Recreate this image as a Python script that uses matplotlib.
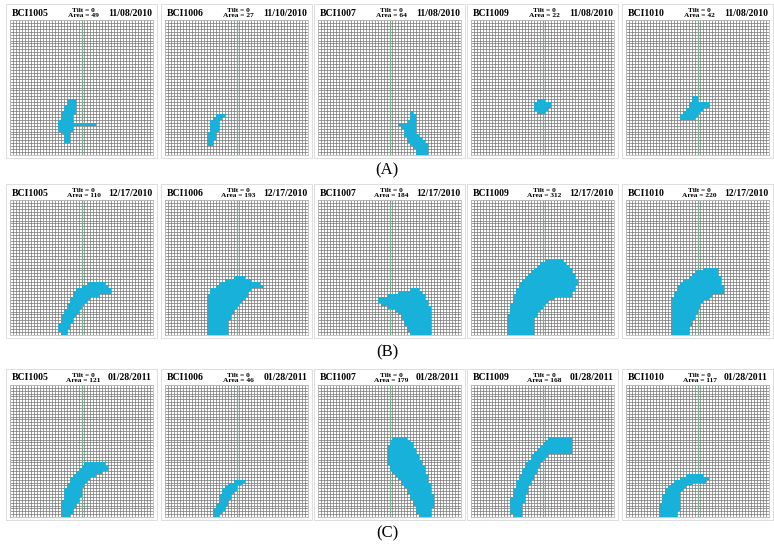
import numpy as np
import matplotlib
matplotlib.use("Agg")
import matplotlib.pyplot as plt
from matplotlib.colors import ListedColormap
from matplotlib.patches import Rectangle

plt.rcParams['font.family'] = ['Liberation Serif', 'DejaVu Serif']

N_COLS = 48
N_ROWS = 46

plants = ["BCI1005", "BCI1006", "BCI1007", "BCI1009", "BCI1010"]
row_labels = ["(A)", "(B)", "(C)"]
dates_a = ["11/08/2010", "11/10/2010", "11/08/2010", "11/08/2010", "11/08/2010"]
dates_b = ["12/17/2010"] * 5
dates_c = ["01/28/2011"] * 5
areas_a = [49, 27, 64, 22, 42]
areas_b = [110, 193, 184, 312, 220]
areas_c = [121, 46, 179, 168, 117]
tilt = 0

# blobs: (bottom row, [(first col, last col) for each row going up])
a1 = (4, [(18, 19), (18, 19), (18, 19), (17, 19), (16, 20), (16, 20), (16, 28), (16, 20),
          (17, 20), (17, 20), (17, 21), (18, 21), (18, 21), (19, 21), (19, 21)])
a2 = (3, [(14, 15), (14, 15), (14, 16), (14, 16), (14, 16), (15, 17), (15, 17), (15, 17),
          (15, 17), (16, 18), (17, 19)])
a3 = (0, [(33, 36), (33, 36), (32, 36), (31, 36), (30, 35), (30, 34), (29, 33), (29, 32),
          (29, 32), (28, 32), (27, 32), (30, 32), (31, 32), (31, 32), (31, 31)])
a4 = (14, [(22, 24), (21, 25), (21, 26), (21, 26), (22, 24)])
a5 = (12, [(18, 22), (18, 23), (19, 24), (20, 25), (21, 27), (21, 27), (22, 23), (22, 23)])

b1 = (0, [(17, 18), (16, 18), (16, 19), (16, 19), (17, 20), (17, 20), (17, 21), (18, 22),
          (18, 22), (19, 23), (19, 24), (20, 25), (20, 26), (21, 29), (21, 33), (22, 33),
          (24, 32), (26, 31)])
b2 = (0, [(14, 20), (14, 20), (14, 20), (14, 20), (14, 20), (14, 21), (14, 21), (14, 22),
          (14, 22), (14, 23), (14, 24), (14, 25), (14, 26), (14, 27), (15, 27), (15, 28),
          (17, 32), (18, 31), (20, 28), (23, 26)])
b3 = (0, [(31, 37), (30, 37), (30, 37), (29, 37), (29, 37), (28, 37), (28, 37), (27, 37),
          (26, 37), (23, 37), (21, 36), (20, 36), (20, 35), (23, 35), (27, 34), (31, 33)])
b4 = (0, [(12, 20), (12, 20), (12, 20), (12, 20), (12, 20), (12, 20), (12, 21), (13, 21),
          (13, 22), (13, 23), (13, 24), (14, 25), (14, 27), (14, 33), (15, 33), (15, 34),
          (16, 34), (16, 35), (17, 35), (18, 34), (19, 34), (20, 33), (21, 33), (22, 32),
          (23, 31), (25, 30)])
b5 = (0, [(15, 20), (15, 20), (15, 20), (15, 21), (15, 21), (15, 22), (15, 22), (15, 23),
          (15, 23), (15, 24), (15, 24), (15, 25), (15, 27), (16, 28), (16, 32), (17, 32),
          (17, 32), (18, 31), (19, 31), (21, 31), (22, 30), (23, 30), (26, 30)])

c1 = (0, [(17, 19), (17, 20), (17, 20), (17, 21), (17, 21), (17, 22), (18, 22), (18, 23),
          (18, 23), (18, 23), (19, 24), (19, 24), (20, 25), (20, 26), (21, 28), (22, 30),
          (23, 32), (24, 32), (25, 31)])
c2 = (0, [(16, 17), (16, 18), (16, 19), (17, 19), (17, 20), (18, 20), (18, 21), (18, 21),
          (19, 22), (19, 23), (20, 23), (21, 25), (23, 26)])
c3 = (0, [(34, 37), (33, 37), (33, 37), (33, 38), (32, 38), (32, 38), (31, 38), (31, 38),
          (30, 37), (30, 37), (29, 37), (28, 37), (28, 36), (27, 36), (26, 36), (25, 35),
          (24, 35), (24, 35), (23, 34), (23, 34), (23, 33), (23, 33), (23, 32), (23, 32),
          (23, 31), (24, 31), (24, 30), (25, 29)])
c4 = (0, [(14, 16), (13, 16), (13, 16), (13, 16), (13, 16), (13, 17), (13, 17), (14, 17),
          (14, 18), (14, 18), (15, 18), (15, 19), (15, 19), (16, 20), (16, 20), (17, 21),
          (17, 21), (18, 22), (18, 22), (19, 23), (20, 24), (20, 25), (21, 33), (22, 33),
          (23, 33), (24, 33), (25, 33), (26, 33)])
c5 = (0, [(11, 16), (11, 16), (11, 17), (11, 17), (11, 17), (12, 17), (12, 17), (12, 17),
          (13, 17), (13, 18), (14, 19), (15, 21), (16, 26), (18, 27), (20, 25)])

blobs = [[a1, a2, a3, a4, a5], [b1, b2, b3, b4, b5], [c1, c2, c3, c4, c5]]
dates = [dates_a, dates_b, dates_c]
areas = [areas_a, areas_b, areas_c]

W, H = 774, 548
col_left = [10, 165, 318, 471, 626]
grid_w = 143
row_top = [20, 200, 385]
row_bot = [155, 335, 517]
label_y = [170, 352, 533]

cyan = ListedColormap(['#17b1d9'])


def blob_mask(blob):
    base, spans = blob
    m = np.zeros((N_ROWS, N_COLS))
    for i, (lo, hi) in enumerate(spans):
        m[base + i, lo:hi + 1] = 1
    return np.ma.masked_equal(m, 0)


fig = plt.figure(figsize=(W / 100, H / 100), dpi=100)

for r in range(3):
    for c in range(5):
        x0 = col_left[c]
        top, bot = row_top[r], row_bot[r]
        ax = fig.add_axes([x0 / W, 1 - bot / H, grid_w / W, (bot - top) / H])
        ax.set_xlim(0, N_COLS)
        ax.set_ylim(0, N_ROWS)
        ax.vlines(np.arange(N_COLS + 1), 0, N_ROWS, color='#747474', lw=0.5, zorder=1)
        ax.hlines(np.arange(N_ROWS + 1), 0, N_COLS, color='#747474', lw=0.5, zorder=1)
        ax.axvline(N_COLS / 2, color='#7aa88a', lw=0.9, zorder=1.5)
        ax.pcolormesh(np.arange(N_COLS + 1), np.arange(N_ROWS + 1), blob_mask(blobs[r][c]),
                      cmap=cyan, zorder=2)
        ax.set_xticks([])
        ax.set_yticks([])
        for s in ax.spines.values():
            s.set_color('#bbbbbb')
            s.set_linewidth(0.6)

        # panel frame incl. header
        fig.patches.append(Rectangle(((x0 - 4) / W, 1 - (bot + 3) / H), (grid_w + 8) / W,
                                     (bot - top + 19) / H, transform=fig.transFigure,
                                     fill=False, ec='#d8d8d8', lw=0.6))

        fig.text((x0 + 2) / W, 1 - (top - 7) / H, plants[c], fontsize=7,
                 fontweight='bold', ha='left', va='center')
        fig.text((x0 + grid_w - 1) / W, 1 - (top - 7) / H, dates[r][c], fontsize=7,
                 fontweight='bold', ha='right', va='center')
        fig.text((x0 + grid_w / 2 + 2) / W, 1 - (top - 7) / H,
                 f"Tilt = {tilt}\nArea = {areas[r][c]}", fontsize=5.3,
                 fontweight='bold', ha='center', va='center', linespacing=0.9)

    fig.text(0.5, 1 - label_y[r] / H, row_labels[r], fontsize=12, ha='center', va='center')

fig.savefig("out.png", dpi=100)
